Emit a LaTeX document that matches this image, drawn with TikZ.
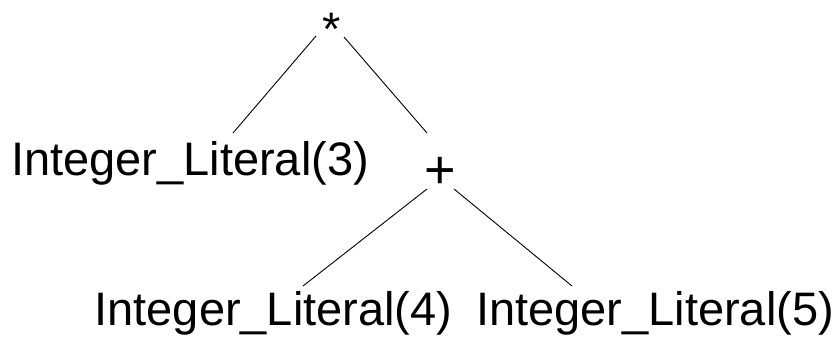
\documentclass[tikz,border=0pt]{standalone}
\usepackage{fontspec}
\setmainfont{Liberation Sans}
\begin{document}
\begin{tikzpicture}[x=1pt,y=-1pt,
  term/.style={inner sep=0pt,anchor=base,font=\fontsize{47}{56}\selectfont},
  edge/.style={line width=0.9pt,black}]
  \useasboundingbox (0,0) rectangle (835,339);
  % operator and operand nodes of the expression tree
  \node[term] (star) at (332,46) {*};
  \node[term] (lit3) at (190,176) {Integer\_Literal(3)};
  \node[term,font=\fontsize{54}{60}\selectfont] (plus) at (440,189) {+};
  \node[term] (lit4) at (273.5,325) {Integer\_Literal(4)};
  \node[term] (lit5) at (655,325) {Integer\_Literal(5)};
  % parent-child links
  \draw[edge] ([shift={(-16,-10)}]star.base) -- ([shift={(43,-43)}]lit3.base);
  \draw[edge] ([shift={(12,-9)}]star.base) -- ([shift={(-13,-56)}]plus.base);
  \draw[edge] ([shift={(-13,0)}]plus.base) -- ([shift={(29.5,-39)}]lit4.base);
  \draw[edge] ([shift={(14,0)}]plus.base) -- ([shift={(-83,-39)}]lit5.base);
\end{tikzpicture}
\end{document}
